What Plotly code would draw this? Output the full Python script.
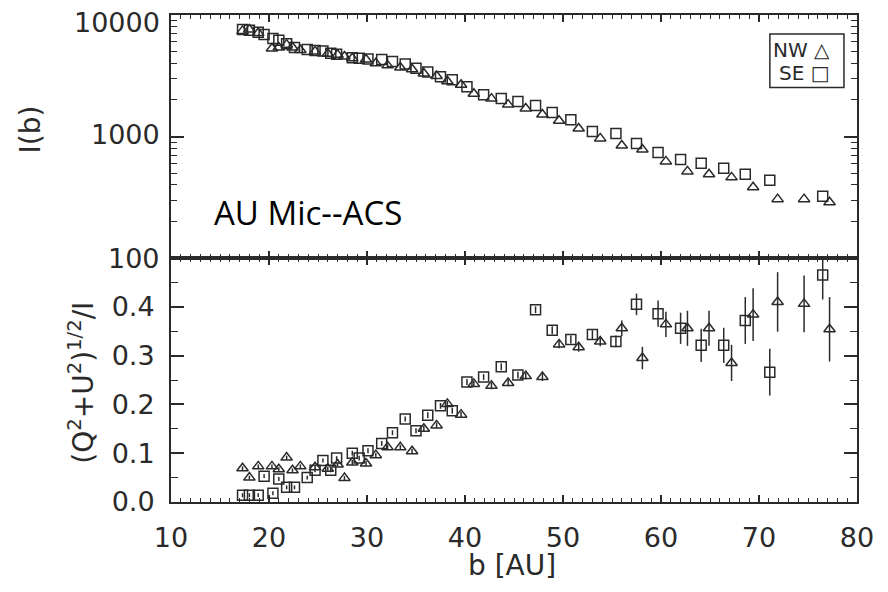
import plotly.graph_objects as go

# ---- data ----
se_b = [17.3, 18.0, 18.9, 19.5, 20.4, 21.0, 21.8, 22.6, 23.9, 24.7, 25.5, 26.3, 26.9,
        28.5, 29.2, 30.1, 31.5, 32.6, 33.9, 35.0, 36.2, 37.5, 38.7, 40.2, 41.9, 43.7,
        45.4, 47.2, 48.9, 50.8, 53.0, 55.4, 57.5, 59.7, 62.0, 64.1, 66.4, 68.6, 71.1, 76.5]
se_I = [7600, 7500, 7200, 6900, 6400, 6200, 5800, 5400, 5200, 5100, 5050, 4850, 4750,
        4450, 4400, 4350, 4300, 4150, 3950, 3650, 3400, 3100, 2930, 2570, 2210, 2050,
        1940, 1800, 1575, 1375, 1100, 1060, 877, 740, 648, 601, 547, 489, 436, 322]
se_P = [0.014, 0.014, 0.014, 0.053, 0.018, 0.047, 0.030, 0.030, 0.050, 0.065, 0.085, 0.065, 0.090,
        0.100, 0.090, 0.105, 0.120, 0.142, 0.170, 0.146, 0.178, 0.197, 0.187, 0.246, 0.256, 0.277,
        0.260, 0.394, 0.352, 0.333, 0.343, 0.329, 0.405, 0.386, 0.356, 0.321, 0.321, 0.372, 0.266, 0.465]
se_err = [0.004, 0.004, 0.004, 0.004, 0.004, 0.004, 0.004, 0.004, 0.004, 0.004, 0.004, 0.004, 0.004,
          0.005, 0.005, 0.005, 0.005, 0.005, 0.005, 0.005, 0.006, 0.006, 0.006, 0.006, 0.006, 0.007,
          0.007, 0.007, 0.008, 0.008, 0.009, 0.012, 0.022, 0.027, 0.032, 0.034, 0.036, 0.048, 0.048, 0.050]

nw_b = [17.3, 18.0, 18.9, 20.3, 21.0, 21.8, 22.4, 23.2, 24.7, 26.0, 27.0, 27.7, 28.5,
        29.9, 30.9, 32.1, 33.4, 34.6, 35.8, 37.1, 38.2, 39.6, 40.9, 42.7, 44.4, 46.2,
        47.9, 49.6, 51.6, 53.8, 56.0, 58.1, 60.5, 62.7, 64.9, 67.2, 69.4, 71.9, 74.6, 77.2]
nw_I = [7400, 7600, 7100, 5300, 5400, 5700, 5400, 5150, 5000, 4800, 4700, 4550, 4400,
        4300, 4000, 3850, 3700, 3580, 3300, 3150, 2850, 2670, 2250, 2050, 1830, 1700,
        1515, 1350, 1165, 965, 843, 781, 624, 516, 489, 461, 382, 305, 305, 288]
nw_P = [0.069, 0.050, 0.073, 0.073, 0.067, 0.091, 0.065, 0.073, 0.071, 0.068, 0.077, 0.049, 0.081,
        0.079, 0.096, 0.112, 0.112, 0.104, 0.150, 0.157, 0.201, 0.179, 0.242, 0.238, 0.244, 0.258,
        0.256, 0.323, 0.317, 0.329, 0.356, 0.295, 0.364, 0.356, 0.356, 0.285, 0.384, 0.410, 0.406, 0.354]
nw_err = [0.004, 0.004, 0.004, 0.004, 0.004, 0.004, 0.004, 0.004, 0.004, 0.004, 0.004, 0.004, 0.005,
          0.005, 0.005, 0.005, 0.005, 0.005, 0.006, 0.006, 0.006, 0.006, 0.006, 0.007, 0.007, 0.007,
          0.008, 0.008, 0.009, 0.010, 0.016, 0.023, 0.026, 0.036, 0.036, 0.037, 0.054, 0.061, 0.058, 0.066]

x_ticks = [10, 20, 30, 40, 50, 60, 70, 80]
I_ticks = [100, 1000, 10000]
P_ticks = [0.0, 0.1, 0.2, 0.3, 0.4]

# ---- style ----
INK = "#2a2a2a"
FONT = "DejaVu Sans"
tri = dict(symbol="triangle-up-open", size=10, color=INK, line=dict(width=1.5, color=INK))
sq = dict(symbol="square-open", size=10, color=INK, line=dict(width=1.5, color=INK))

fig = go.Figure()
fig.add_trace(go.Scatter(x=se_b, y=se_I, mode="markers", marker=sq, xaxis="x2", yaxis="y2",
                         showlegend=False))
fig.add_trace(go.Scatter(x=nw_b, y=nw_I, mode="markers", marker=tri, xaxis="x2", yaxis="y2",
                         showlegend=False))
fig.add_trace(go.Scatter(x=se_b, y=se_P, mode="markers", marker=sq,
                         error_y=dict(type="data", array=se_err, color=INK, thickness=1.5, width=0),
                         showlegend=False))
fig.add_trace(go.Scatter(x=nw_b, y=nw_P, mode="markers", marker=tri,
                         error_y=dict(type="data", array=nw_err, color=INK, thickness=1.5, width=0),
                         showlegend=False))

tickfont = dict(family=FONT, size=27, color=INK)
axis_common = dict(showline=True, linecolor=INK, linewidth=2, mirror="allticks",
                   ticks="inside", tickcolor=INK, tickwidth=1.5, showgrid=False, zeroline=False)
minor_x = dict(ticks="inside", ticklen=4, tickwidth=1.2, tickcolor=INK, dtick=1, showgrid=False)

# the page body has an 8px margin, so the figure is sized to fit inside it
split = 245 / 489
fig.update_layout(
    width=872, height=576,
    margin=dict(l=163, r=23, t=5, b=82),
    paper_bgcolor="white", plot_bgcolor="white",
    showlegend=False,
    xaxis=dict(range=[10, 80], anchor="y", tickvals=x_ticks, ticktext=[str(v) for v in x_ticks],
               ticklen=7, tickfont=tickfont, ticklabelstandoff=11, minor=minor_x, **axis_common),
    xaxis2=dict(range=[10, 80], anchor="y2", matches="x", tickvals=x_ticks, showticklabels=False,
                ticklen=7, minor=minor_x, **axis_common),
    yaxis=dict(domain=[0, split], range=[0, 0.5], tickvals=P_ticks,
               ticktext=["%.1f" % v for v in P_ticks], ticklen=13, tickfont=tickfont,
               ticklabelstandoff=9,
               minor=dict(ticks="inside", ticklen=7, tickwidth=1.2, tickcolor=INK,
                          tickvals=[0.05, 0.15, 0.25, 0.35, 0.45], showgrid=False),
               **axis_common),
    yaxis2=dict(domain=[split, 1], type="log", range=[2, 4], tickvals=I_ticks,
                showticklabels=False, ticklen=13,
                minor=dict(ticks="inside", ticklen=6, tickwidth=1.2, tickcolor=INK,
                           tickvals=[m * d for d in (100, 1000) for m in range(2, 10)],
                           showgrid=False),
                **axis_common),
)

# log-axis tick labels (drawn as text so the top one stays inside the page)
for v, ys in zip(I_ticks, [0, 2, -7]):
    fig.add_annotation(text=str(v), x=0, y=len(str(v)) - 1, xref="paper", yref="y2",
                       xanchor="right", yanchor="middle", xshift=-9, yshift=ys,
                       showarrow=False, font=tickfont)

ann_font = dict(family=FONT, size=28, color=INK)
fig.add_annotation(text="I(b)", x=-0.2055, y=0.765, xref="paper", yref="paper",
                   xanchor="center", yanchor="middle",
                   textangle=-90, showarrow=False, font=ann_font)
fig.add_annotation(text="(Q<sup>2</sup>+U<sup>2</sup>)<sup>1/2</sup>/I", x=-0.1297, y=0.245,
                   xref="paper", yref="paper", xanchor="center", yanchor="middle",
                   textangle=-90, showarrow=False, font=ann_font)
fig.add_annotation(text="b [AU]", x=0.497, y=-0.131, xref="paper", yref="paper",
                   xanchor="center", yanchor="middle", showarrow=False, font=ann_font)
fig.add_annotation(text="AU Mic--ACS", x=0.0598, y=0.595, xref="paper", yref="paper",
                   xanchor="left", yanchor="middle", showarrow=False,
                   font=dict(family="Open Sans", size=33, color="black"))

# legend box
fig.add_shape(type="rect", xref="paper", yref="paper", x0=0.873, x1=0.981, y0=0.851, y1=0.961,
              line=dict(color=INK, width=1.5), fillcolor="white")
leg_font = dict(family=FONT, size=20, color=INK)
fig.add_annotation(text="NW △", x=0.9636, y=0.928, xref="paper", yref="paper",
                   xanchor="right", yanchor="middle", showarrow=False, font=leg_font)
fig.add_annotation(text="SE □", x=0.9636, y=0.881, xref="paper", yref="paper",
                   xanchor="right", yanchor="middle", showarrow=False, font=leg_font)

fig.write_html("out.html")
